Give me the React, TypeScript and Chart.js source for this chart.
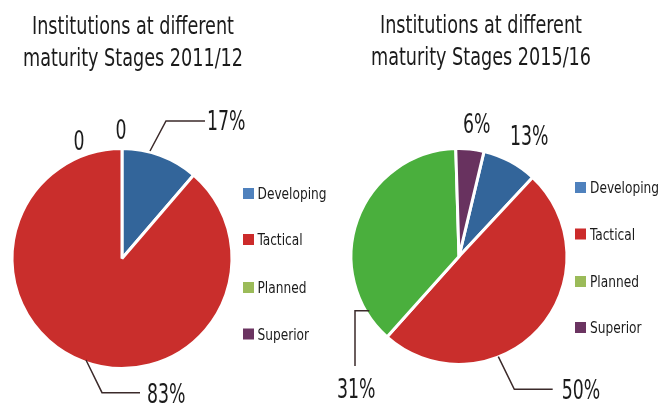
import { useEffect, useRef } from "react";
import { Chart, registerables } from "chart.js";
Chart.register(...registerables);

const categories = ["Developing", "Tactical", "Planned", "Superior"];
const values2011 = [11.3, 88.7, 0, 0];
const values2015 = [8.2, 49.7, 37.9, 4.2];
const pctLabels2011 = ["17%", "83%", "0", "0"];
const pctLabels2015 = ["13%", "50%", "31%", "6%"];
const title2011 = ["Institutions at different", "maturity Stages 2011/12"];
const title2015 = ["Institutions at different", "maturity Stages 2015/16"];

const sliceColors = ["#33659A", "#C92E2C", "#4AAF3D", "#68325F"];
const legendColors = ["#4F81BD", "#CC2B2B", "#9BBB59", "#6B3461"];
const FONT = "'DejaVu Sans Condensed', 'Liberation Sans Narrow', sans-serif";
const LINE = "#3B2A2A";
const TEXT = "#1b1b1b";
const BW = 3;

type Pt = [number, number];
type Panel = {
  values: number[];
  labels: string[];
  title: string[];
  rotation: number;
  cx: number;
  cy: number;
  r: number;
  w: number;
  titleX: number;
  titleBase: number[];
  legBoxX: number;
  legTextX: number;
  legTops: number[];
  labelPos: Pt[];
  leaders: (Pt[] | null)[];
};

const panels: Panel[] = [
  {
    values: values2011,
    labels: pctLabels2011,
    title: title2011,
    rotation: 0,
    cx: 122,
    cy: 258.5,
    r: 108.5,
    w: 330,
    titleX: 133,
    titleBase: [33.5, 65.5],
    legBoxX: 243,
    legTextX: 257.5,
    legTops: [188, 234, 282, 328.5],
    labelPos: [
      [207, 130],
      [147, 403],
      [115.5, 139],
      [73.5, 150],
    ],
    leaders: [
      [
        [150, 151],
        [166, 121],
        [205, 121],
      ],
      [
        [86, 360],
        [102, 392.7],
        [140, 392.7],
      ],
      null,
      null,
    ],
  },
  {
    values: values2015,
    labels: pctLabels2015,
    title: title2015,
    rotation: 13.4,
    cx: 129,
    cy: 256.5,
    r: 106.5,
    w: 331,
    titleX: 151,
    titleBase: [33, 65],
    legBoxX: 245,
    legTextX: 260,
    legTops: [182, 228.5, 276, 322],
    labelPos: [
      [180, 145],
      [231.7, 399],
      [7, 398],
      [133, 133],
    ],
    leaders: [
      null,
      [
        [168.3, 356.7],
        [184.3, 389.3],
        [222.7, 389.3],
      ],
      [
        [39.3, 310.7],
        [25, 310.7],
        [25, 366],
      ],
      null,
    ],
  },
];

function drawText(
  ctx: CanvasRenderingContext2D,
  t: string,
  x: number,
  y: number,
  align: CanvasTextAlign,
  sx: number
) {
  ctx.save();
  ctx.translate(x, y);
  ctx.scale(sx, 1);
  ctx.textAlign = align;
  ctx.fillText(t, 0, 0);
  ctx.restore();
}

function PieCanvas({ p }: { p: Panel }) {
  const ref = useRef<HTMLCanvasElement | null>(null);
  useEffect(() => {
    if (!ref.current) return;
    const H = 406;
    const outer = p.r + BW / 2;
    const half = outer + BW / 2;
    const decor = {
      id: "decor",
      afterDraw(chart: any) {
        const ctx = chart.ctx as CanvasRenderingContext2D;
        ctx.save();
        ctx.fillStyle = TEXT;
        ctx.textBaseline = "alphabetic";
        // title
        ctx.font = `24px ${FONT}`;
        const tS = 220 / ctx.measureText("maturity Stages 2011/12").width;
        p.title.forEach((t, i) => drawText(ctx, t, p.titleX, p.titleBase[i], "center", tS));
        // legend
        ctx.font = `16px ${FONT}`;
        const lS = 69 / ctx.measureText("Developing").width;
        categories.forEach((c, i) => {
          ctx.fillStyle = legendColors[i];
          ctx.fillRect(p.legBoxX, p.legTops[i], 11, 11);
          ctx.fillStyle = TEXT;
          drawText(ctx, c, p.legTextX, p.legTops[i] + 11, "left", lS);
        });
        // leaders
        ctx.strokeStyle = LINE;
        ctx.lineWidth = 1.5;
        p.leaders.forEach((l) => {
          if (!l) return;
          ctx.beginPath();
          ctx.moveTo(l[0][0], l[0][1]);
          for (let k = 1; k < l.length; k++) ctx.lineTo(l[k][0], l[k][1]);
          ctx.stroke();
        });
        // labels
        ctx.font = `27px ${FONT}`;
        const pS = 38.5 / ctx.measureText("17%").width;
        ctx.fillStyle = TEXT;
        p.labels.forEach((t, i) => drawText(ctx, t, p.labelPos[i][0], p.labelPos[i][1], "left", pS));
        ctx.restore();
      },
    };
    const chart = new Chart(ref.current, {
      type: "pie",
      data: {
        labels: categories,
        datasets: [
          {
            data: p.values,
            backgroundColor: sliceColors,
            borderColor: "#ffffff",
            borderWidth: BW,
          },
        ],
      },
      options: {
        responsive: false,
        animation: false,
        rotation: p.rotation,
        layout: {
          padding: {
            left: p.cx - half,
            right: p.w - (p.cx + half),
            top: p.cy - half,
            bottom: H - (p.cy + half),
          },
        },
        plugins: {
          legend: { display: false },
          title: { display: false },
          tooltip: { enabled: false },
        },
      },
      plugins: [decor],
    });
    return () => chart.destroy();
  }, [p]);
  return <canvas ref={ref} width={p.w} height={406} style={{ display: "block" }} />;
}

export default function App() {
  return (
    <div
      style={{
        position: "absolute",
        left: 0,
        top: 0,
        width: 661,
        height: 406,
        background: "#ffffff",
        display: "flex",
      }}
    >
      {panels.map((p, i) => (
        <PieCanvas key={i} p={p} />
      ))}
    </div>
  );
}
